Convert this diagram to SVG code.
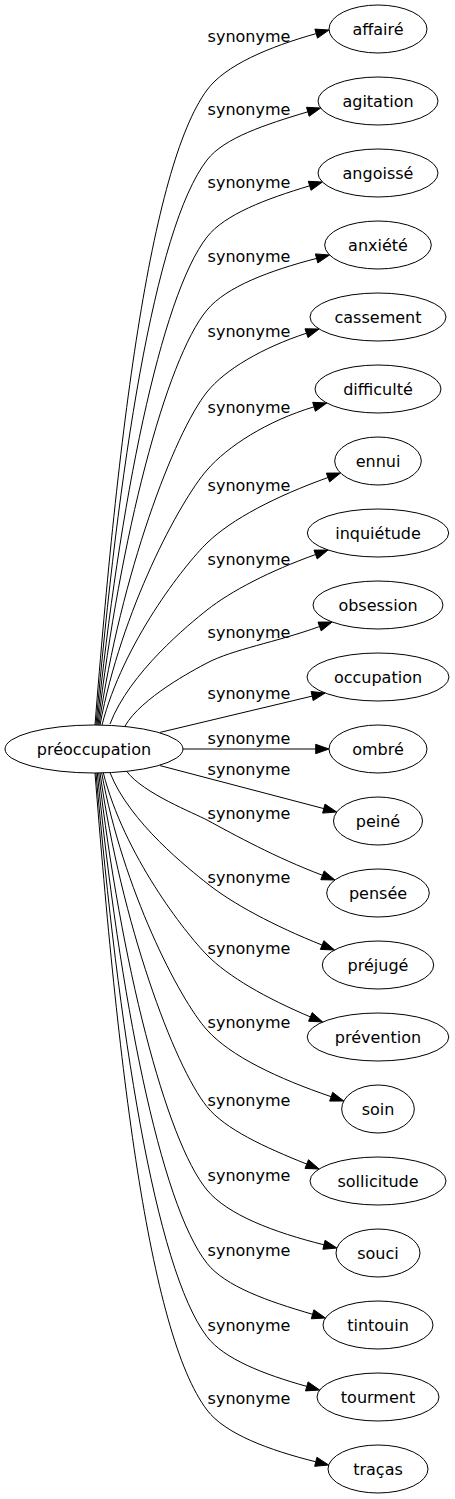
<svg xmlns="http://www.w3.org/2000/svg" width="455" height="1499" viewBox="0 0 455 1499">
<style>
.node ellipse{fill:none;stroke:#000;stroke-width:1}
.node text{font-family:"DejaVu Sans",sans-serif;font-size:16px;text-anchor:middle;fill:#000}
#edges path{fill:none;stroke:#000;stroke-width:1}
#edges polygon{fill:#000;stroke:#000;stroke-width:1}
#edges text{font-family:"DejaVu Sans",sans-serif;font-size:16px;text-anchor:middle;fill:#000}
</style>
<rect width="455" height="1499" fill="#fff"/>
<g id="edges">
<path d="M95,725 C117.4,439.3 149.7,167.9 207,90 C225.2,65.3 268.8,46.9 316.2,33.6"/><polygon points="329,30 317.5,38.1 314.9,29.1"/><text x="249" y="42">synonyme</text>
<path d="M96,725 C118.2,470.8 154.1,228.3 207,160 C224.1,137.9 265.1,124.6 307.9,111.8"/><polygon points="320.6,108 309.2,116.3 306.5,107.3"/><text x="249" y="115">synonyme</text>
<path d="M97,725 C119,505.4 160.7,296 207,237 C224.7,214.4 265.7,199 309.7,185.8"/><polygon points="322.4,182 311,190.3 308.3,181.3"/><text x="249" y="188">synonyme</text>
<path d="M98,725 C119.8,538.3 165.8,359.5 207,310 C226.4,286.7 269.7,270.6 316.6,258.4"/><polygon points="329.5,255 317.8,262.9 315.4,253.9"/><text x="249" y="262">synonyme</text>
<path d="M99,725 C120.6,575.2 174.2,433 207,392 C225.1,369.4 262.6,347.7 306.5,333.2"/><polygon points="319.1,329 308,337.6 305,328.8"/><text x="249" y="337">synonyme</text>
<path d="M100,725 C121.4,610.3 179.7,501.3 207,470 C227.4,446.6 266.4,421.1 314.1,406.8"/><polygon points="326.8,403 315.4,411.3 312.7,402.3"/><text x="249" y="413">synonyme</text>
<path d="M102,725 C123,643.1 184.4,565 207,543 C231.7,519 276.2,496.1 328,477.5"/><polygon points="340.5,473 329.6,481.9 326.4,473.1"/><text x="249" y="491">synonyme</text>
<path d="M110,724 C129.4,672.7 189.4,624 207,610 C230.9,591.1 269.7,571 315.6,554.5"/><polygon points="328.1,550 317.2,558.9 314,550.1"/><text x="249" y="565">synonyme</text>
<path d="M125,726 C141.4,697.7 193.3,670.2 207,663 C233.2,649.2 275,642.6 319.6,626.5"/><polygon points="332.1,622 321.2,630.9 318,622.1"/><text x="249" y="638">synonyme</text>
<path d="M160,732.4 L312.2,696.1"/><polygon points="325.1,693 313.2,700.6 311.1,691.5"/><text x="249" y="699">synonyme</text>
<path d="M183,749 L315.7,749"/><polygon points="329,749 315.7,753.7 315.7,744.3"/><text x="249" y="744">synonyme</text>
<path d="M160,765.6 L323.8,808.6"/><polygon points="336.7,812 322.6,813.1 325,804.1"/><text x="249" y="775">synonyme</text>
<path d="M126.7,771.3 C142.8,793.2 194.6,813.3 207,820 C235.1,835.2 274.6,857.1 322.5,875.3"/><polygon points="334.9,880 320.8,879.7 324.2,870.9"/><text x="249" y="819">synonyme</text>
<path d="M110,772.6 C129.4,822.4 189.7,869.5 207,883.3 C232.6,903.7 273.6,925.7 322.2,945.1"/><polygon points="334.5,950 320.4,949.4 323.9,940.7"/><text x="249" y="883">synonyme</text>
<path d="M103.3,772.8 C124,854.8 185,932.6 207,955 C228,976.5 266,998.2 310.4,1016.9"/><polygon points="322.7,1022 308.6,1021.2 312.2,1012.6"/><text x="249" y="954">synonyme</text>
<path d="M101.7,773 C122.8,888.7 179.1,999 207,1030 C230.6,1056.2 277.8,1078.5 331.2,1096.7"/><polygon points="343.8,1101 329.7,1101.1 332.7,1092.3"/><text x="249" y="1028">synonyme</text>
<path d="M100,773 C121.4,923.2 173.9,1065.8 207,1106.7 C225.1,1129.1 264.1,1147 306.8,1164.1"/><polygon points="319.1,1169 305,1168.4 308.5,1159.7"/><text x="249" y="1106">synonyme</text>
<path d="M98.7,773 C120.4,960.7 165.7,1140.3 207,1190 C227.6,1214.8 273.8,1232.3 324,1244.8"/><polygon points="336.9,1248 322.9,1249.3 325.1,1240.3"/><text x="249" y="1181">synonyme</text>
<path d="M97.3,773 C119.2,993.6 160.1,1204.2 207,1263.3 C225.2,1286.3 267.6,1301.2 312.6,1314.3"/><polygon points="325.4,1318 311.3,1318.8 313.9,1309.8"/><text x="249" y="1256">synonyme</text>
<path d="M96,773 C118.2,1026.7 154.7,1268.2 207,1336.7 C223.9,1358.9 263.9,1374.4 306.8,1386.4"/><polygon points="319.6,1390 305.5,1390.9 308.1,1381.9"/><text x="249" y="1331">synonyme</text>
<path d="M95,773 C117.4,1059.7 148.3,1332.8 207,1410 C225.2,1434 269,1450.1 315.8,1461.8"/><polygon points="328.7,1465 314.7,1466.3 316.9,1457.3"/><text x="249" y="1404">synonyme</text>
</g>
<g id="n-preoccupation" class="node"><ellipse cx="94" cy="749" rx="89" ry="24"/><text x="94" y="755">préoccupation</text></g>
<g id="n-affaire" class="node"><ellipse cx="378" cy="29" rx="49" ry="24"/><text x="378" y="35">affairé</text></g>
<g id="n-agitation" class="node"><ellipse cx="378" cy="101" rx="60" ry="24"/><text x="378" y="107">agitation</text></g>
<g id="n-angoisse" class="node"><ellipse cx="378" cy="173" rx="60" ry="24"/><text x="378" y="179">angoissé</text></g>
<g id="n-anxiete" class="node"><ellipse cx="378" cy="245" rx="53.3" ry="24"/><text x="378" y="251">anxiété</text></g>
<g id="n-cassement" class="node"><ellipse cx="378" cy="317" rx="68" ry="24"/><text x="378" y="323">cassement</text></g>
<g id="n-difficulte" class="node"><ellipse cx="378" cy="389" rx="63" ry="24"/><text x="378" y="395">difficulté</text></g>
<g id="n-ennui" class="node"><ellipse cx="378" cy="461" rx="43.3" ry="24"/><text x="378" y="467">ennui</text></g>
<g id="n-inquietude" class="node"><ellipse cx="378" cy="533" rx="70.7" ry="24"/><text x="378" y="539">inquiétude</text></g>
<g id="n-obsession" class="node"><ellipse cx="378" cy="605" rx="65" ry="24"/><text x="378" y="611">obsession</text></g>
<g id="n-occupation" class="node"><ellipse cx="378" cy="677" rx="71" ry="24"/><text x="378" y="683">occupation</text></g>
<g id="n-ombre" class="node"><ellipse cx="378" cy="749" rx="49" ry="24"/><text x="378" y="755">ombré</text></g>
<g id="n-peine" class="node"><ellipse cx="378" cy="821" rx="44.5" ry="24"/><text x="378" y="827">peiné</text></g>
<g id="n-pensee" class="node"><ellipse cx="378" cy="893" rx="51.3" ry="24"/><text x="378" y="899">pensée</text></g>
<g id="n-prejuge" class="node"><ellipse cx="378" cy="965" rx="55.7" ry="24"/><text x="378" y="971">préjugé</text></g>
<g id="n-prevention" class="node"><ellipse cx="378" cy="1037" rx="70.8" ry="24"/><text x="378" y="1043">prévention</text></g>
<g id="n-soin" class="node"><ellipse cx="378" cy="1109" rx="36.3" ry="24"/><text x="378" y="1115">soin</text></g>
<g id="n-sollicitude" class="node"><ellipse cx="378" cy="1181" rx="68" ry="24"/><text x="378" y="1187">sollicitude</text></g>
<g id="n-souci" class="node"><ellipse cx="378" cy="1253" rx="42" ry="24"/><text x="378" y="1259">souci</text></g>
<g id="n-tintouin" class="node"><ellipse cx="378" cy="1325" rx="55" ry="24"/><text x="378" y="1331">tintouin</text></g>
<g id="n-tourment" class="node"><ellipse cx="378" cy="1397" rx="61" ry="24"/><text x="378" y="1403">tourment</text></g>
<g id="n-tracas" class="node"><ellipse cx="378" cy="1469" rx="50" ry="24"/><text x="378" y="1475">traças</text></g>
</svg>
